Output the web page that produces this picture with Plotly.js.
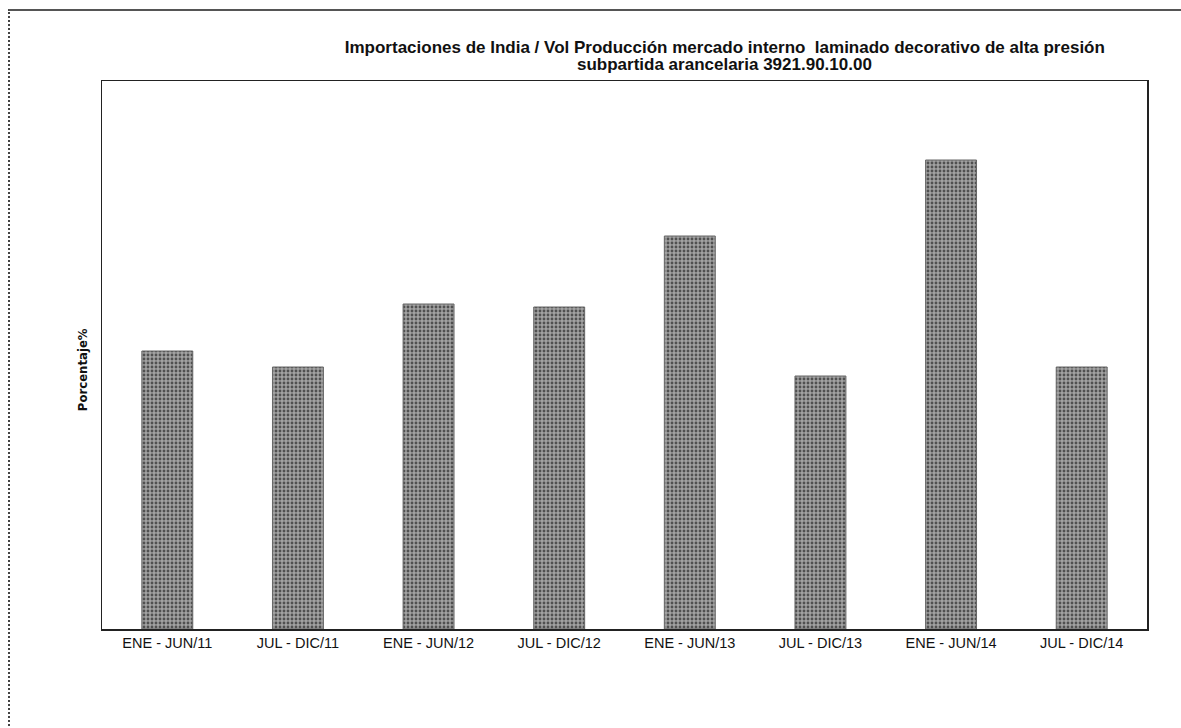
<!DOCTYPE html>
<html>
<head>
<meta charset="utf-8">
<script src="https://cdn.plot.ly/plotly-3.0.1.min.js"></script>
<style>
html,body{margin:0;padding:0;background:#fff;overflow:hidden;}
#wrap{position:relative;width:1181px;height:728px;}
#frame{position:absolute;left:8px;top:9px;width:1200px;height:800px;border-left:2px dotted #444;border-top:2px solid #555;box-sizing:border-box;pointer-events:none;}
#chart{position:absolute;left:0;top:0;width:1181px;height:728px;}
</style>
</head>
<body>
<div id="wrap">
<div id="chart"></div>
<div id="frame"></div>
</div>
<script>
const categories = ["ENE - JUN/11","JUL - DIC/11","ENE - JUN/12","JUL - DIC/12","ENE - JUN/13","JUL - DIC/13","ENE - JUN/14","JUL - DIC/14"];
const values = [2.78, 2.62, 3.25, 3.22, 3.93, 2.53, 4.69, 2.62];
const titleLines = ["Importaciones de India / Vol Producción mercado interno  laminado decorativo de alta presión", "subpartida arancelaria 3921.90.10.00"];
const yTitle = "Porcentaje%";

const titleFont = {family: 'Liberation Sans, Arial, sans-serif', size: 17, color: '#111'};

const trace = {
  type: 'bar',
  x: categories,
  y: values,
  width: 0.39,
  marker: {
    color: '#999999',
    line: {color: '#666', width: 1},
    pattern: {shape: '.', fgcolor: '#505050', bgcolor: '#a2a2a2', size: 4, solidity: 0.4}
  },
  hoverinfo: 'x+y'
};

const layout = {
  width: 1181, height: 728,
  margin: {l: 102, r: 34, t: 81, b: 99},
  paper_bgcolor: '#fff', plot_bgcolor: '#fff',
  showlegend: false,
  bargap: 0.6,
  title: {
    text: '<b>' + titleLines[0] + '</b>',
    font: titleFont,
    x: 0.596, xref: 'paper', xanchor: 'center',
    y: 0.9354, yref: 'container', yanchor: 'middle'
  },
  xaxis: {
    type: 'category',
    showline: true, linecolor: '#222', linewidth: 1.5, mirror: true,
    ticks: '', showgrid: false,
    tickfont: {family: 'Liberation Sans, Arial, sans-serif', size: 14.5, color: '#111'},
    ticklabelstandoff: 0
  },
  yaxis: {
    range: [0, 5.48],
    showline: true, linecolor: '#222', linewidth: 1.5, mirror: true,
    showticklabels: false, ticks: '', showgrid: false, zeroline: false
  },
  annotations: [{
    text: '<b>' + titleLines[1] + '</b>',
    xref: 'paper', yref: 'paper',
    x: 0.596, y: 1.031, xanchor: 'center', yanchor: 'middle',
    showarrow: false,
    font: titleFont
  }, {
    text: '<b>' + yTitle + '</b>',
    textangle: -90,
    xref: 'paper', yref: 'paper',
    x: -0.019, y: 0.5, xanchor: 'center', yanchor: 'middle',
    yshift: -15,
    showarrow: false,
    font: {family: 'DejaVu Sans Condensed, Liberation Sans Narrow, Arial Narrow, sans-serif', size: 13, color: '#111'}
  }]
};

Plotly.newPlot('chart', [trace], layout, {displayModeBar: false, staticPlot: true});
</script>
</body>
</html>
